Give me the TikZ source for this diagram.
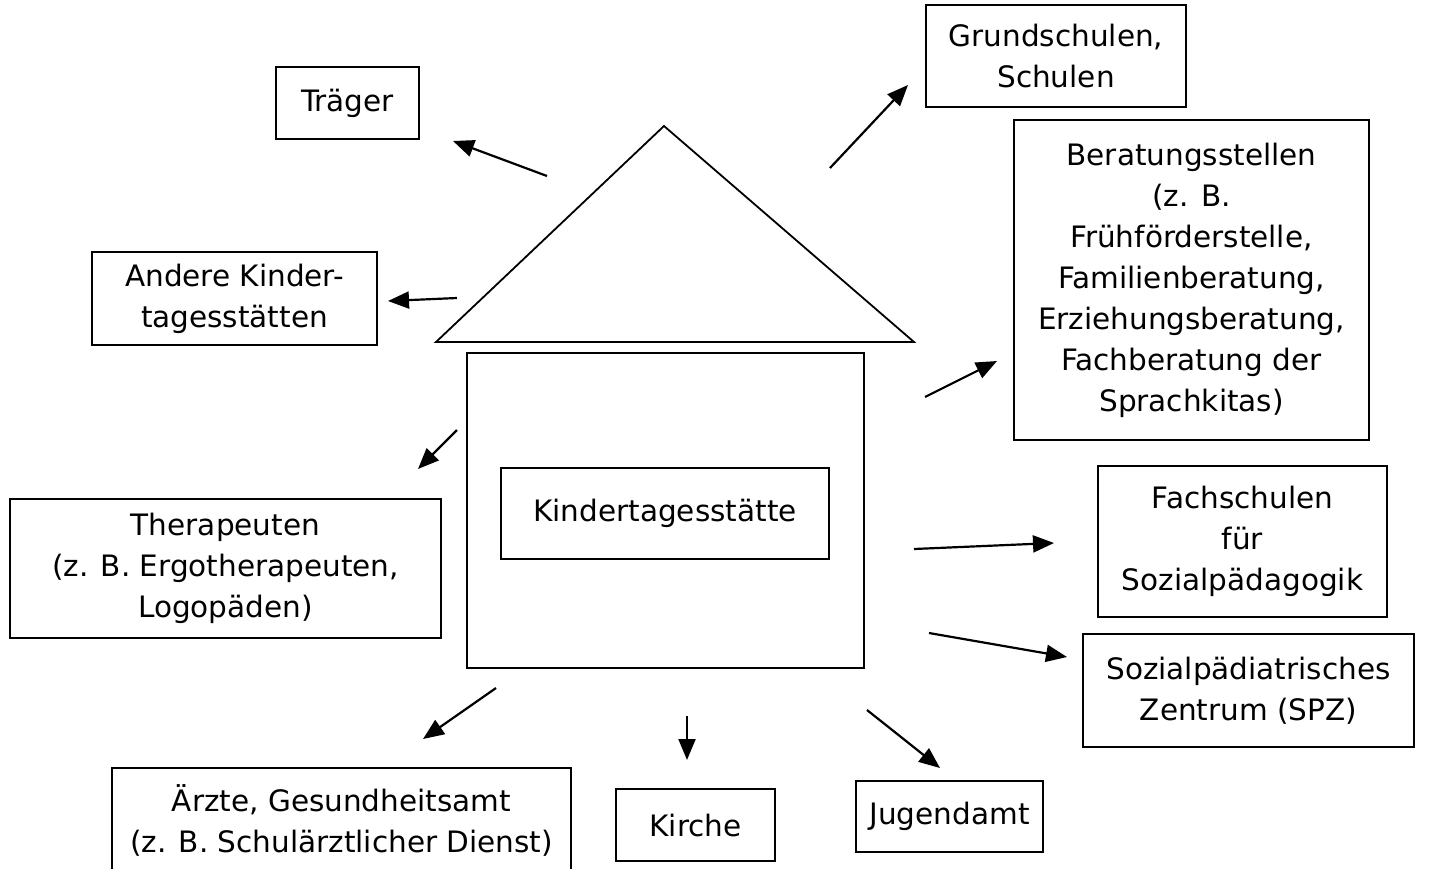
\documentclass[tikz,border=0pt]{standalone}
\usepackage{fontspec}
\setmainfont{DejaVu Sans}
\usetikzlibrary{arrows.meta,calc}

\tikzset{
  partner/.style={draw,line width=1.8pt,align=center,inner sep=0pt,
    font=\fontsize{29.5}{41}\selectfont},
  link/.style={line width=2.2pt,-{Triangle[length=21pt,width=17pt]}}
}

\begin{document}
\begin{tikzpicture}[x=1pt,y=-1pt]
\useasboundingbox (0,0) rectangle (1435,868);

% Haus
\draw[line width=1.8pt] (664,126) -- (436,342) -- (914,342) -- cycle;
\node[partner,minimum width=397pt,minimum height=315pt] (haus) at (665.5,510.5) {};
\node[partner,minimum width=328pt,minimum height=91pt] (kita) at (665,513.5) {Kindertagesstätte};

% Partner
\node[partner,minimum width=143pt,minimum height=72pt] (traeger) at (347.5,103) {Träger};
\node[partner,minimum width=260pt,minimum height=102pt] (schulen) at (1056,56) {Grundschulen,\\Schulen};
\node[partner,minimum width=285pt,minimum height=93pt] (andere) at (234.5,298.5) {Andere Kinder-\\tagesstätten};
\node[partner,minimum width=355pt,minimum height=320pt] (beratung) at (1191.5,280)
  {Beratungsstellen\\(z. B.\\Frühförderstelle,\\Familienberatung,\\Erziehungsberatung,\\Fachberatung der\\Sprachkitas)};
\node[partner,minimum width=431pt,minimum height=139pt] (thera) at (225.5,568.5)
  {Therapeuten\\(z. B. Ergotherapeuten,\\Logopäden)};
\node[partner,minimum width=289pt,minimum height=151pt] (fach) at (1242.5,541.5) {Fachschulen\\für\\Sozialpädagogik};
\node[partner,minimum width=331pt,minimum height=113pt] (spz) at (1248.5,690.5) {Sozialpädiatrisches\\Zentrum (SPZ)};
\node[partner,minimum width=459pt,minimum height=104pt] (aerzte) at (341.5,820)
  {Ärzte, Gesundheitsamt\\(z. B. Schulärztlicher Dienst)};
\node[partner,minimum width=159pt,minimum height=72pt] (kirche) at (695.5,825) {Kirche};
\node[partner,minimum width=187pt,minimum height=71pt] (jugend) at (949.5,816.5) {Jugendamt};

% Pfeile
\coordinate (t0) at (547,176);  \coordinate (t1) at (453,141);
\coordinate (s0) at (830,168);  \coordinate (s1) at (908,85);
\coordinate (a0) at (457,298);  \coordinate (a1) at (388,301);
\coordinate (b0) at (925,397);  \coordinate (b1) at (997,361);
\coordinate (th0) at (457,430); \coordinate (th1) at (418,469);
\coordinate (f0) at (914,549);  \coordinate (f1) at (1054,543);
\coordinate (p0) at (929,633);  \coordinate (p1) at (1067,657);
\coordinate (r0) at (496,688);  \coordinate (r1) at (423,739);
\coordinate (k0) at (687,716);  \coordinate (k1) at (687,760);
\coordinate (j0) at (867,710);  \coordinate (j1) at (940,768);

\draw[link] (t0) -- (t1);
\draw[link] (s0) -- (s1);
\draw[link] (a0) -- (a1);
\draw[link] (b0) -- (b1);
\draw[link] (th0) -- (th1);
\draw[link] (f0) -- (f1);
\draw[link] (p0) -- (p1);
\draw[link] (r0) -- (r1);
\draw[link] (k0) -- (k1);
\draw[link] (j0) -- (j1);

\end{tikzpicture}
\end{document}
